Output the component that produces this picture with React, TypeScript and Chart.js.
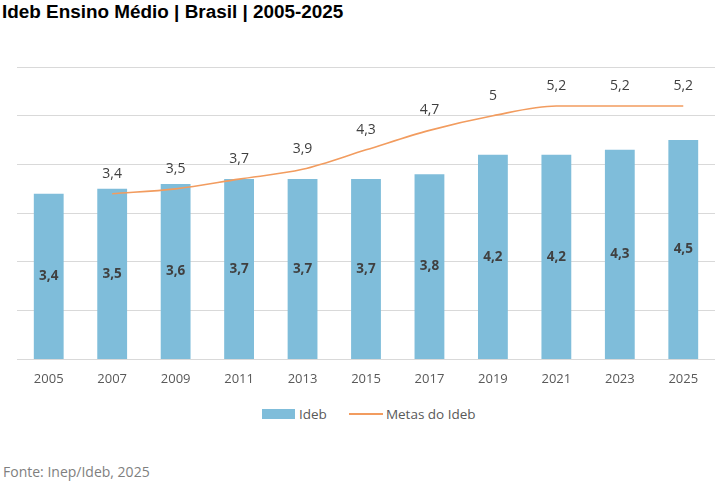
import { useEffect, useRef } from "react";
import { Chart, registerables } from "chart.js";

Chart.register(...registerables);

const years = ["2005", "2007", "2009", "2011", "2013", "2015", "2017", "2019", "2021", "2023", "2025"];
const ideb = [3.4, 3.5, 3.6, 3.7, 3.7, 3.7, 3.8, 4.2, 4.2, 4.3, 4.5];
const metas = [null, 3.4, 3.5, 3.7, 3.9, 4.3, 4.7, 5, 5.2, 5.2, 5.2];

const barColor = "#7fbdda";
const lineColor = "#f29c5f";
const textColor = "#404040";
const axisColor = "#595959";
const fontFamily = "'Open Sans', sans-serif";

const fmt = (v: number) => String(v).replace(".", ",");

// rótulos de valor: dentro das barras (negrito) e acima da linha
const valueLabels = {
  id: "valueLabels",
  afterDatasetsDraw(chart: Chart) {
    const { ctx } = chart;
    ctx.save();
    ctx.textAlign = "center";
    ctx.textBaseline = "middle";
    ctx.fillStyle = textColor;
    chart.data.datasets.forEach((ds, i) => {
      const meta = chart.getDatasetMeta(i);
      meta.data.forEach((el: any, j) => {
        const v = ds.data[j] as number | null;
        if (v == null) return;
        if (ds.type === "bar") {
          ctx.font = `bold 13.5px ${fontFamily}`;
          ctx.fillText(fmt(v), el.x, (el.y + el.base) / 2);
        } else {
          ctx.font = `14px ${fontFamily}`;
          ctx.fillText(fmt(v), el.x, el.y - 20);
        }
      });
    });
    ctx.restore();
  },
};

export default function App() {
  const ref = useRef<HTMLCanvasElement>(null);
  const chartRef = useRef<Chart | null>(null);

  useEffect(() => {
    document.body.style.margin = "0";
    if (!ref.current) return;
    if (chartRef.current) chartRef.current.destroy();

    chartRef.current = new Chart(ref.current, {
      type: "bar",
      data: {
        labels: years,
        datasets: [
          {
            type: "line",
            label: "Metas do Ideb",
            data: metas,
            borderColor: lineColor,
            borderWidth: 1.6,
            pointRadius: 0,
            cubicInterpolationMode: "monotone",
            order: 0,
          },
          {
            type: "bar",
            label: "Ideb",
            data: ideb,
            backgroundColor: barColor,
            barPercentage: 0.47,
            categoryPercentage: 1,
            order: 1,
          },
        ] as any,
      },
      options: {
        responsive: true,
        maintainAspectRatio: false,
        animation: false,
        layout: { padding: { top: 67, left: 17, right: 5, bottom: 0 } },
        plugins: {
          legend: { display: false },
          tooltip: { enabled: false },
        },
        scales: {
          x: {
            grid: { display: false },
            border: { display: false },
            ticks: { color: axisColor, font: { family: fontFamily, size: 13 }, padding: 4 },
          },
          y: {
            min: 0,
            max: 6,
            ticks: { display: false, stepSize: 1 },
            grid: { color: "#d9d9d9", drawTicks: false },
            border: { display: false },
          },
        },
      },
      plugins: [valueLabels],
    });

    return () => chartRef.current?.destroy();
  }, []);

  return (
    <div style={{ position: "relative", width: 720, height: 482, background: "#fff", overflow: "hidden" }}>
      <div
        style={{
          position: "absolute",
          left: 2,
          top: 1,
          fontFamily: "'Liberation Sans', Arial, sans-serif",
          fontWeight: "bold",
          fontSize: 18.9,
          color: "#000",
          whiteSpace: "nowrap",
        }}
      >
        Ideb Ensino Médio | Brasil | 2005-2025
      </div>
      <div style={{ position: "absolute", left: 0, top: 0, width: 720, height: 391 }}>
        <canvas ref={ref} role="img" aria-label="Ideb Ensino Médio, Brasil, 2005-2025" />
      </div>
      <div
        style={{
          position: "absolute",
          left: 262,
          top: 404,
          height: 20,
          display: "flex",
          alignItems: "center",
          fontFamily,
          fontSize: 13.5,
          color: axisColor,
          whiteSpace: "nowrap",
        }}
      >
        <span style={{ display: "inline-block", width: 33, height: 10, background: barColor, marginRight: 4 }} />
        <span>Ideb</span>
        <span style={{ display: "inline-block", width: 34, height: 1.6, background: lineColor, marginLeft: 22, marginRight: 3 }} />
        <span>Metas do Ideb</span>
      </div>
      <div
        style={{
          position: "absolute",
          left: 3,
          top: 462,
          fontFamily,
          fontSize: 14,
          color: "#7f7f7f",
          whiteSpace: "nowrap",
        }}
      >
        Fonte: Inep/Ideb, 2025
      </div>
    </div>
  );
}
